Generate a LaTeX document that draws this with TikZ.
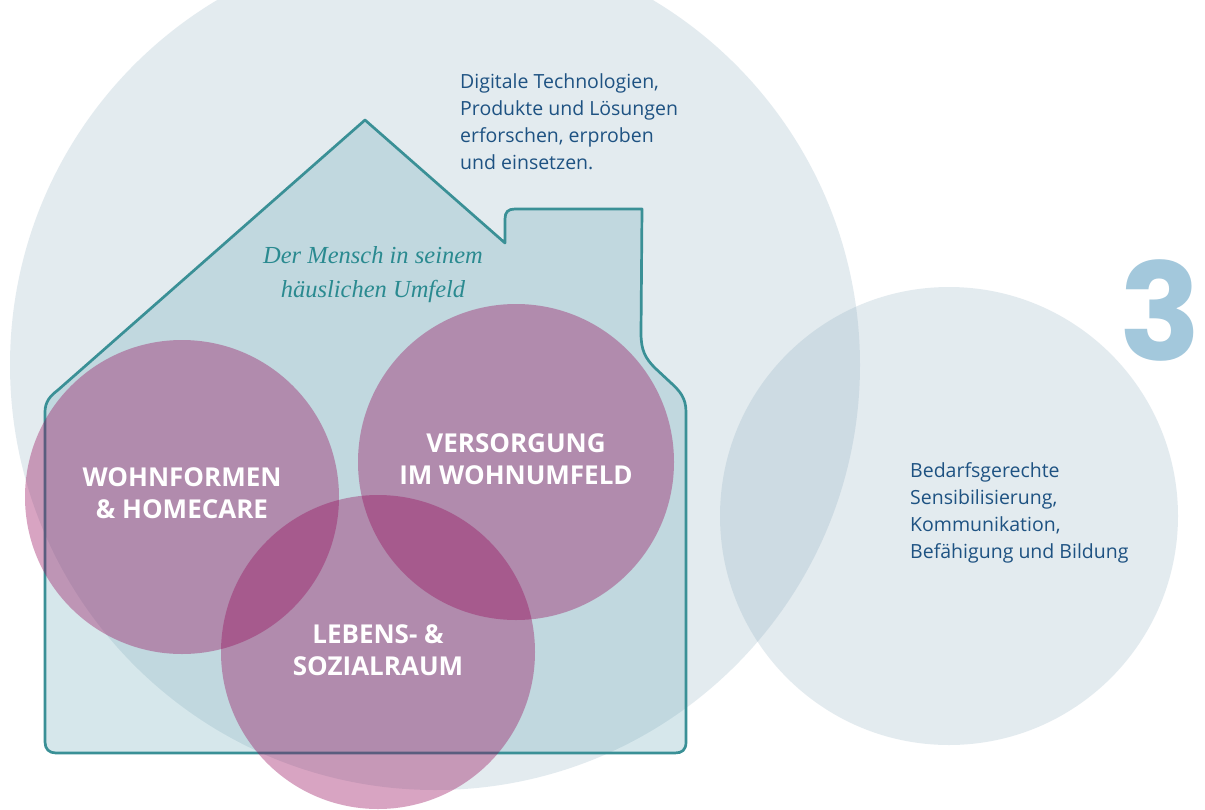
\documentclass[tikz,border=0pt]{standalone}
\usepackage{fontspec}
\setmainfont{Open Sans}
\newfontfamily\numfont{Poppins}
\newfontfamily\serifit{Liberation Serif}
\definecolor{bigc}{RGB}{130,165,185}
\definecolor{housec}{RGB}{95,163,179}
\definecolor{housestroke}{RGB}{58,144,150}
\definecolor{magc}{RGB}{149,5,86}
\definecolor{txtblue}{RGB}{30,82,130}
\definecolor{menschc}{RGB}{42,138,144}
\definecolor{numc}{RGB}{163,200,220}
\begin{document}
\begin{tikzpicture}[x=1pt,y=-1pt,
  bigcircle/.style={fill=bigc,fill opacity=0.22},
  magcircle/.style={fill=magc,fill opacity=0.36},
  houseshape/.style={fill=housec,fill opacity=0.25,draw=housestroke,line width=2.7pt,line join=round},
  circlelabel/.style={text=white,font=\fontsize{26}{32}\selectfont\bfseries,align=center,anchor=base,inner sep=0pt},
  bodytext/.style={text=txtblue,font=\fontsize{19.5}{27}\selectfont,align=left,anchor=base west,inner sep=0pt},
  menschtext/.style={text=menschc,font=\serifit\fontsize{24.5}{34}\selectfont\itshape,align=center,anchor=base,inner sep=0pt},
  numtext/.style={text=numc,font=\fontsize{135}{135}\selectfont\numfont\bfseries,anchor=base,inner sep=0pt}
]
\useasboundingbox (0,0) rectangle (1205,809);
\clip (0,0) rectangle (1205,809);
\fill[white] (0,0) rectangle (1205,809);
% big background circles
\fill[bigcircle] (435,365) circle[radius=425pt];
\fill[bigcircle] (949,516) circle[radius=229pt];
% house
\draw[houseshape] (365,120) -- (505,243) -- (505,219)
  .. controls (505,212) and (508,209) .. (515,209) -- (642,209) -- (641,333)
  .. controls (641,350) and (645,358) .. (655,368) -- (670,382)
  .. controls (680,391) and (686,398) .. (686,412) -- (686,742)
  .. controls (686,750) and (682,753) .. (675,753) -- (56,753)
  .. controls (49,753) and (45,749) .. (45,742) -- (45,412)
  .. controls (45,402) and (50,396) .. (58,390) -- cycle;
% magenta circles
\fill[magcircle] (182,497) circle[radius=157pt];
\fill[magcircle] (516,462) circle[radius=158pt];
\fill[magcircle] (378,652) circle[radius=157pt];
% texts (base anchor = baseline of last line)
\node[bodytext] (digital) at (460,169) {Digitale Technologien,\\Produkte und Lösungen\\erforschen, erproben\\und einsetzen.};
\node[bodytext] (bedarf) at (910,558) {Bedarfsgerechte\\Sensibilisierung,\\Kommunikation,\\Befähigung und Bildung};
\node[menschtext] (mensch) at (373,297) {Der Mensch in seinem\\häuslichen Umfeld};
\node[circlelabel] (wohn) at (182,518) {WOHNFORMEN\\\& HOMECARE};
\node[circlelabel] (vers) at (516,484) {VERSORGUNG\\IM WOHNUMFELD};
\node[circlelabel] (leben) at (378,675) {LEBENS- \&\\SOZIALRAUM};
\node[numtext] (three) at (1160,360) {3};
\end{tikzpicture}
\end{document}
